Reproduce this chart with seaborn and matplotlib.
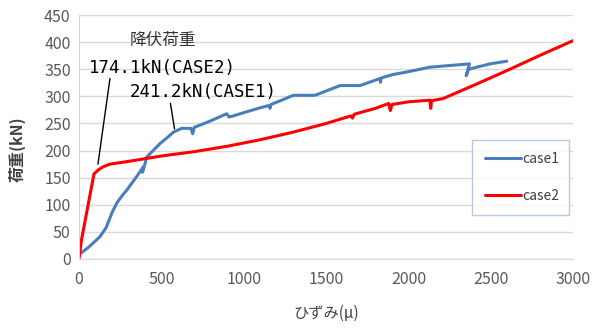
import numpy as np
import matplotlib
matplotlib.use("Agg")
import matplotlib.pyplot as plt
import pandas as pd
import seaborn as sns

# case1 (blue) strain / load
case1_x = [0, 60, 127, 165, 200, 229, 260, 290, 350, 391, 385, 400, 411, 450, 492, 540, 573, 623,
           680, 690, 700, 735, 800, 897, 910, 937, 1000, 1100, 1150, 1160, 1165, 1230,
           1301, 1433, 1500, 1585, 1706, 1780, 1828, 1830, 1835, 1900, 1989, 2131, 2250,
           2370, 2350, 2365, 2415, 2495, 2597]
case1_y = [8, 22, 41, 58, 85, 103, 116, 127, 152, 170, 160, 175, 188, 200, 213, 225, 234, 241,
           241, 231, 243, 247, 255, 268, 262, 264, 270, 279, 283, 278, 285, 293,
           302, 302, 310, 320, 320, 328, 333, 326, 334, 340, 345, 354, 357,
           360, 338, 350, 354, 360, 365]

# case2 (red)
case2_x = [0, 15, 91, 120, 146, 188, 300, 500, 700, 900, 1100, 1300, 1500, 1650, 1660, 1670,
           1800, 1880, 1890, 1900, 2000, 2130, 2135, 2140, 2210, 2400, 2600, 2800, 3000]
case2_y = [0, 35, 157, 165, 170, 175, 180, 190, 198, 208, 220, 234, 250, 264, 260, 267,
           278, 287, 274, 285, 290, 293, 278, 292, 296, 321, 348, 376, 403]

df1 = pd.DataFrame({"x": case1_x, "y": case1_y})
df2 = pd.DataFrame({"x": case2_x, "y": case2_y})

sns.set_style("white")
plt.rcParams["font.family"] = ["Noto Sans CJK JP", "DejaVu Sans"]

fig = plt.figure(figsize=(5.94, 3.29), dpi=100)
ax = fig.add_axes([0.133, 0.213, 0.832, 0.741])

sns.lineplot(data=df1, x="x", y="y", sort=False, estimator=None, ax=ax,
             color="#4a7ebb", lw=2.2, label="case1")
sns.lineplot(data=df2, x="x", y="y", sort=False, estimator=None, ax=ax,
             color="#ff0000", lw=2.2, label="case2")

ax.set_xlim(0, 3000)
ax.set_ylim(0, 450)
ax.set_xticks(np.arange(0, 3001, 500))
ax.set_yticks(np.arange(0, 451, 50))
ax.yaxis.grid(True, color="#d9d9d9", lw=1)
ax.xaxis.grid(False)
for s in ["top", "right"]:
    ax.spines[s].set_visible(False)
ax.spines["left"].set_color("#d9d9d9")
ax.spines["bottom"].set_color("#d9d9d9")
ax.tick_params(axis="x", direction="out", length=4, color="#d9d9d9",
               labelsize=11.5, labelcolor="#595959", pad=5)
ax.tick_params(axis="y", length=0, labelsize=11.5, labelcolor="#595959", pad=6)

ax.set_xlabel("ひずみ(μ)", fontsize=11, color="#404040")
ax.set_ylabel("荷重(kN)", fontsize=11.5, fontweight="bold", color="#404040")
ax.xaxis.set_label_coords(0.5, -0.19)
ax.yaxis.set_label_coords(-0.107, 0.45)

ax.text(510, 403, "降伏荷重", fontsize=12, color="#333333", ha="center", va="center")
ax.text(60, 352, "174.1kN(CASE2)", fontsize=12.5, color="black", ha="left", va="center",
        family=["DejaVu Sans Mono"])
ax.text(310, 308, "241.2kN(CASE1)", fontsize=12.5, color="black", ha="left", va="center",
        family=["DejaVu Sans Mono"])
ax.plot([188, 115], [333, 175], color="black", lw=1)
ax.plot([555, 580], [287, 240], color="black", lw=1)

leg = ax.legend(loc="lower left", bbox_to_anchor=(0.796, 0.18, 0.196, 0.295),
                mode="expand", fancybox=False, frameon=True, fontsize=10,
                labelspacing=1.6, handlelength=2.6, handletextpad=0.1,
                borderpad=0.9, borderaxespad=0)
leg.get_frame().set_edgecolor("#a7bcdc")
leg.get_frame().set_linewidth(1)
for t in leg.get_texts():
    t.set_color("#404040")

fig.savefig("out.png", dpi=100)
